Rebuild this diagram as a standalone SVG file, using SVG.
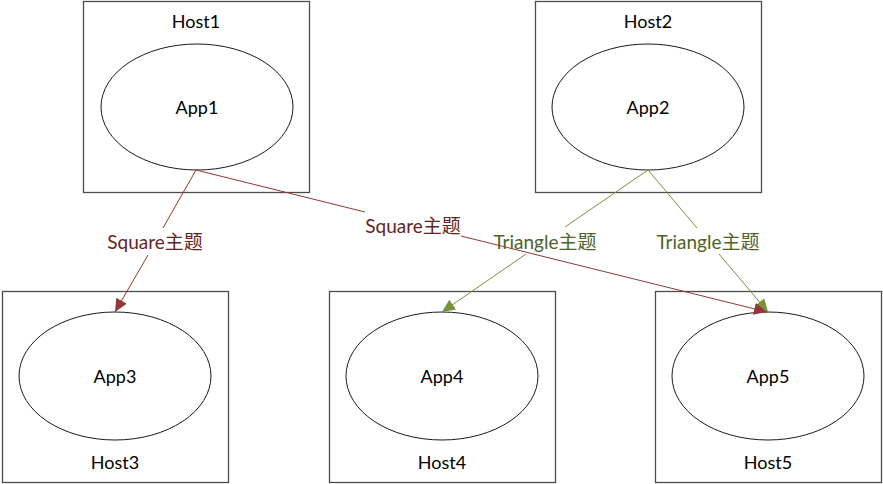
<svg xmlns="http://www.w3.org/2000/svg" width="883" height="484" viewBox="0 0 883 484">
<style>
  .host { fill: #ffffff; stroke: #4d4d4d; stroke-width: 1.3; }
  .app { fill: #ffffff; stroke: #1a1a1a; stroke-width: 1; }
  .t { font-family: Lato, "Noto Sans CJK SC", sans-serif; font-size: 18px; text-anchor: middle; dominant-baseline: central; fill: #000000; }
  .sq { stroke: #953735; stroke-width: 1; fill: none; }
  .tr { stroke: #77933C; stroke-width: 1; fill: none; }
  .lsq { fill: #632523; font-size: 19px; }
  .ltr { fill: #4F6228; font-size: 19px; }
</style>
<defs>
  <marker id="aSq" markerUnits="userSpaceOnUse" markerWidth="14" markerHeight="12" viewBox="0 0 14 12" refX="13" refY="6" orient="auto">
    <path d="M0,0 L13,6 L0,12 Z" fill="#953735"/>
  </marker>
  <marker id="aTr" markerUnits="userSpaceOnUse" markerWidth="14" markerHeight="12" viewBox="0 0 14 12" refX="13" refY="6" orient="auto">
    <path d="M0,0 L13,6 L0,12 Z" fill="#77933C"/>
  </marker>
</defs>
<rect width="883" height="484" fill="#ffffff"/>
<g id="host1">
  <rect class="host" x="83.5" y="1.5" width="226" height="191"/>
  <text class="t" x="196" y="21">Host1</text>
  <ellipse class="app" cx="197" cy="107" rx="96" ry="63"/>
  <text class="t" x="197" y="107">App1</text>
</g>
<g id="host2">
  <rect class="host" x="535.5" y="1.5" width="226" height="191"/>
  <text class="t" x="648" y="21">Host2</text>
  <ellipse class="app" cx="648" cy="107" rx="96" ry="63"/>
  <text class="t" x="648" y="107">App2</text>
</g>
<g id="host3">
  <rect class="host" x="2.5" y="291.5" width="226" height="191"/>
  <ellipse class="app" cx="115" cy="376" rx="96" ry="64"/>
  <text class="t" x="115" y="376">App3</text>
  <text class="t" x="115" y="462">Host3</text>
</g>
<g id="host4">
  <rect class="host" x="329.5" y="291.5" width="226" height="191"/>
  <ellipse class="app" cx="442" cy="376" rx="96" ry="64"/>
  <text class="t" x="442" y="376">App4</text>
  <text class="t" x="442" y="462">Host4</text>
</g>
<g id="host5">
  <rect class="host" x="655.5" y="291.5" width="226" height="191"/>
  <ellipse class="app" cx="768" cy="376" rx="96" ry="64"/>
  <text class="t" x="768" y="376">App5</text>
  <text class="t" x="768" y="462">Host5</text>
</g>
<g id="connectors">
  <line class="sq" x1="196" y1="170" x2="163" y2="228"/>
  <line class="sq" x1="148" y1="255" x2="115" y2="312" marker-end="url(#aSq)"/>
  <text class="t lsq" x="155" y="241">Square主题</text>

  <line class="tr" x1="648" y1="170" x2="565" y2="227"/>
  <line class="tr" x1="526" y1="254" x2="442" y2="312" marker-end="url(#aTr)"/>
  <text class="t ltr" x="545" y="241">Triangle主题</text>

  <line class="tr" x1="648" y1="170" x2="697" y2="228"/>
  <line class="tr" x1="719" y1="254" x2="768" y2="312" marker-end="url(#aTr)"/>
  <text class="t ltr" x="708" y="241">Triangle主题</text>

  <line class="sq" x1="196" y1="170" x2="365" y2="212"/>
  <line class="sq" x1="461" y1="236" x2="767" y2="312" marker-end="url(#aSq)"/>
  <text class="t lsq" x="413" y="225">Square主题</text>
</g>
</svg>
